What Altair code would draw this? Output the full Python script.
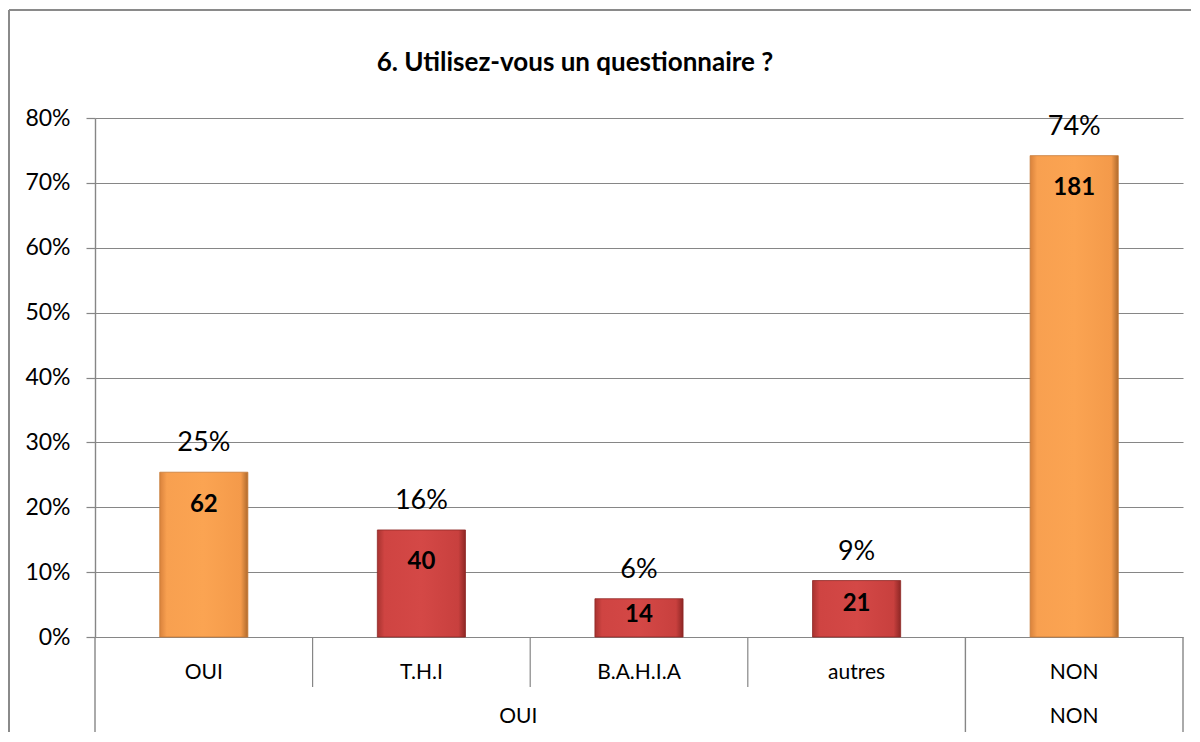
import altair as alt
import pandas as pd

categories = ["OUI", "T.H.I", "B.A.H.I.A", "autres", "NON"]
values = [25.4, 16.5, 5.9, 8.7, 74.2]
counts = [62, 40, 14, 21, 181]
pct_labels = ["25%", "16%", "6%", "9%", "74%"]
kinds = ["main", "sub", "sub", "sub", "main"]

short_seps = ["T.H.I", "B.A.H.I.A", "autres"]
long_seps_start = ["OUI", "NON"]
long_seps_end = ["NON"]
group_labels = ["OUI", "NON"]
group_anchor = ["B.A.H.I.A", "NON"]

df = pd.DataFrame({"cat": categories, "v": values, "n": counts,
                   "pl": pct_labels, "kind": kinds})

FONT = "Lato"
W, H = 1088, 519

xscale = alt.Scale(domain=categories, paddingInner=0, paddingOuter=0)
yscale = alt.Scale(domain=[0, 80], nice=False)

x_enc = alt.X("cat:N", sort=categories, scale=xscale,
              axis=alt.Axis(title=None, ticks=False, domain=False, labelAngle=0,
                            labelFont=FONT, labelFontSize=21, labelColor="#000",
                            labelBaseline="middle", labelPadding=35, grid=False))
y_enc = alt.Y("v:Q", scale=yscale,
              axis=alt.Axis(title=None, values=[0, 10, 20, 30, 40, 50, 60, 70, 80],
                            labelExpr="datum.value + '%'", labelFont=FONT,
                            labelFontSize=23, labelColor="#000", labelPadding=16,
                            tickSize=9, tickColor="#868686", domainColor="#868686",
                            gridColor="#868686", gridWidth=1.2, grid=True,
                            domainWidth=1.4, tickWidth=1.2))

orange_grad = alt.Gradient(gradient="linear", x1=0, x2=1, y1=0, y2=0, stops=[
    alt.GradientStop(color="#D9823C", offset=0),
    alt.GradientStop(color="#F8A050", offset=0.08),
    alt.GradientStop(color="#FBA452", offset=0.5),
    alt.GradientStop(color="#F49A4A", offset=0.92),
    alt.GradientStop(color="#B06A2C", offset=1)])
red_grad = alt.Gradient(gradient="linear", x1=0, x2=1, y1=0, y2=0, stops=[
    alt.GradientStop(color="#A83330", offset=0),
    alt.GradientStop(color="#CF4442", offset=0.08),
    alt.GradientStop(color="#D44846", offset=0.5),
    alt.GradientStop(color="#C8403E", offset=0.92),
    alt.GradientStop(color="#8E2725", offset=1)])

base = alt.Chart(df)

bars_main = base.transform_filter("datum.kind == 'main'").mark_bar(
    width=alt.RelativeBandSize(0.405), color=orange_grad, stroke="#C77A36", strokeWidth=0.8
).encode(x=x_enc, y=y_enc, y2=alt.datum(0))
bars_sub = base.transform_filter("datum.kind == 'sub'").mark_bar(
    width=alt.RelativeBandSize(0.405), color=red_grad, stroke="#8E2725", strokeWidth=0.8
).encode(x=x_enc, y=y_enc, y2=alt.datum(0))

pct_text = base.mark_text(font=FONT, fontSize=27, color="#000", baseline="middle", dy=-29).encode(
    x=alt.X("cat:N", sort=categories, scale=xscale), y=alt.Y("v:Q", scale=yscale), text="pl:N")

cnt_text = base.transform_calculate(
    yl="datum.v - min(5, datum.v * 0.42)"
).mark_text(font=FONT, fontSize=24, fontWeight="bold", color="#000", baseline="middle").encode(
    x=alt.X("cat:N", sort=categories, scale=xscale), y=alt.Y("yl:Q", scale=yscale), text="n:Q")

sep_short = alt.Chart(pd.DataFrame({"cat": short_seps})).mark_rule(
    color="#868686", strokeWidth=1.2).encode(
    x=alt.X("cat:N", sort=categories, scale=xscale, bandPosition=0),
    y=alt.value(H), y2=alt.value(H + 50))
sep_long_a = alt.Chart(pd.DataFrame({"cat": long_seps_start})).mark_rule(
    color="#868686", strokeWidth=1.4).encode(
    x=alt.X("cat:N", sort=categories, scale=xscale, bandPosition=0),
    y=alt.value(H), y2=alt.value(H + 130))
sep_long_b = alt.Chart(pd.DataFrame({"cat": long_seps_end})).mark_rule(
    color="#868686", strokeWidth=1.4).encode(
    x=alt.X("cat:N", sort=categories, scale=xscale, bandPosition=1),
    y=alt.value(H), y2=alt.value(H + 130))

grp_df = pd.DataFrame({"lab": group_labels, "cat": group_anchor})
grp_oui = alt.Chart(grp_df.iloc[[0]]).mark_text(
    font=FONT, fontSize=21, color="#000", baseline="middle", dx=-12).encode(
    x=alt.X("cat:N", sort=categories, scale=xscale, bandPosition=0),
    y=alt.value(H + 80), text="lab:N")
grp_non = alt.Chart(grp_df.iloc[[1]]).mark_text(
    font=FONT, fontSize=21, color="#000", baseline="middle").encode(
    x=alt.X("cat:N", sort=categories, scale=xscale, bandPosition=0.5),
    y=alt.value(H + 80), text="lab:N")

title = alt.Chart(pd.DataFrame({"t": ["6. Utilisez-vous un questionnaire ?"]})).mark_text(
    font=FONT, fontSize=26, fontWeight="bold", color="#000", baseline="middle").encode(
    x=alt.value(480), y=alt.value(-55), text="t:N")

border = alt.Chart(pd.DataFrame({"a": [1]})).mark_rule(color="#8A8A8A", strokeWidth=2).encode(
    x=alt.value(-86), x2=alt.value(-86), y=alt.value(-108), y2=alt.value(H + 130))
border_top = alt.Chart(pd.DataFrame({"a": [1]})).mark_rule(color="#8A8A8A", strokeWidth=2).encode(
    x=alt.value(-86), x2=alt.value(W + 40), y=alt.value(-108))

chart = alt.layer(
    border, border_top, bars_main, bars_sub, sep_short, sep_long_a, sep_long_b,
    pct_text, cnt_text, grp_oui, grp_non, title
).properties(
    width=W, height=H,
    autosize=alt.AutoSizeParams(type="none"),
    padding={"left": 87, "top": 110, "right": 8, "bottom": 95},
    background="#FFFFFF"
).configure_view(stroke=None)

chart.save("out.html", embed_options={"renderer": "svg", "actions": False})
